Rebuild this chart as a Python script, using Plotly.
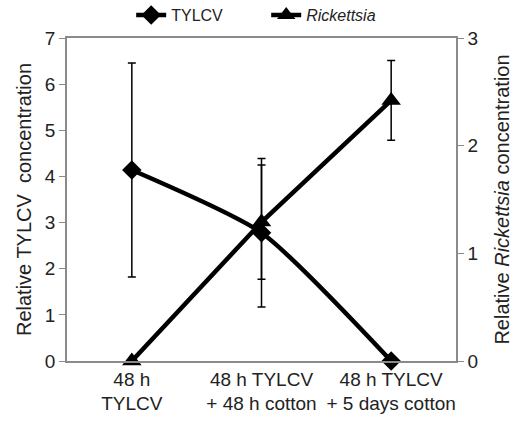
import plotly.graph_objects as go

categories = ["48 h<br>TYLCV", "48 h TYLCV<br>+ 48 h cotton", "48 h TYLCV<br>+ 5 days cotton"]
tylcv = [4.14, 2.78, 0.0]
tylcv_err = [2.32, 1.61, 0.0]
rick = [0.0, 1.29, 2.42]
rick_err = [0.0, 0.53, 0.37]

FONT = "Liberation Sans"
GREY = "#8a8a8a"

fig = go.Figure()
fig.add_trace(go.Scatter(
    x=categories, y=tylcv, name="TYLCV", mode="lines+markers",
    line=dict(color="black", width=4.5, shape="spline", smoothing=0.6),
    marker=dict(symbol="diamond", size=15, color="black"),
    error_y=dict(type="data", array=tylcv_err, visible=True, color="black", thickness=1.5, width=4),
    cliponaxis=False, yaxis="y"))
fig.add_trace(go.Scatter(
    x=categories, y=rick, name="<i>Rickettsia</i>", mode="lines+markers",
    line=dict(color="black", width=4.5),
    marker=dict(symbol="triangle-up", size=17, color="black"),
    error_y=dict(type="data", array=rick_err, visible=True, color="black", thickness=1.5, width=4),
    cliponaxis=False, yaxis="y2"))

fig.update_layout(
    width=523, height=422,
    margin=dict(l=67, r=67, t=38, b=61, autoexpand=False),
    paper_bgcolor="white", plot_bgcolor="white",
    font=dict(family=FONT, size=19, color="#222"),
    showlegend=True,
    legend=dict(orientation="h", x=0.165, xanchor="left", y=1.071, yanchor="middle",
                font=dict(size=16), entrywidth=90, entrywidthmode="pixels",
                bgcolor="rgba(0,0,0,0)"),
    xaxis=dict(type="category", range=[-0.5, 2.5], showline=True, linecolor=GREY, linewidth=1.5,
               mirror=True, ticks="", showgrid=False, tickfont=dict(size=19)),
    yaxis=dict(range=[0, 7], dtick=1, showline=True, linecolor=GREY, linewidth=1.5,
               ticks="outside", ticklen=6, tickcolor=GREY, showgrid=False, zeroline=False,
               title=dict(text="Relative TYLCV  concentration", font=dict(size=20), standoff=8)),
    yaxis2=dict(range=[0, 3], dtick=1, overlaying="y", side="right", showline=True, linecolor=GREY,
                linewidth=1.5, ticks="outside", ticklen=6, tickcolor=GREY, showgrid=False, zeroline=False,
                title=dict(text="Relative <i>Rickettsia</i> concentration", font=dict(size=20), standoff=18)),
)

fig.write_html("out.html")
